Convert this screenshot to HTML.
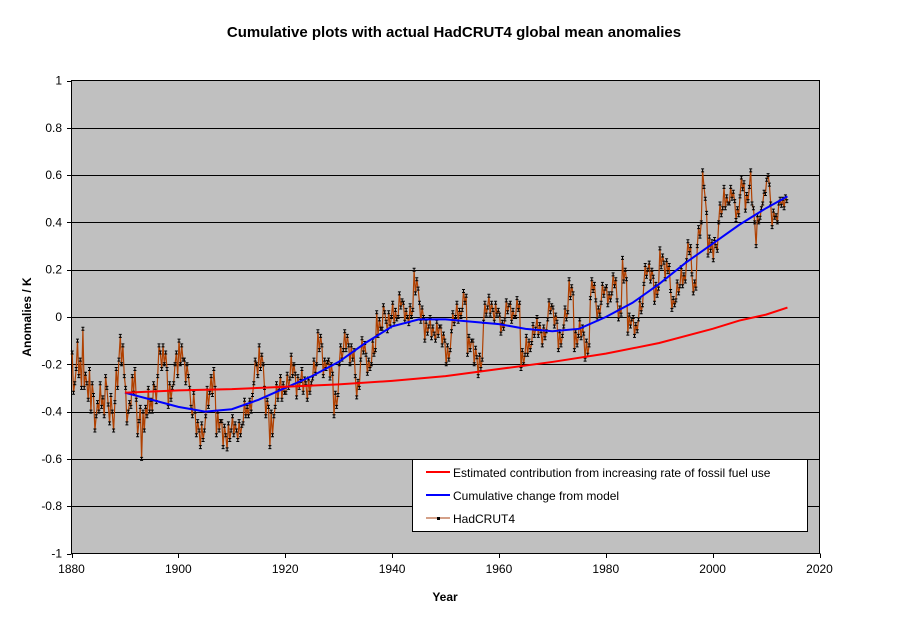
<!DOCTYPE html>
<html><head><meta charset="utf-8"><style>
body{margin:0;background:#fff;}
svg text{font-family:"Liberation Sans",Arial,sans-serif;}
</style></head><body>
<svg id="chart" width="908" height="623" xmlns="http://www.w3.org/2000/svg">
<text x="454" y="37" text-anchor="middle" font-size="15" font-weight="bold">Cumulative plots with actual HadCRUT4 global mean anomalies</text>
<rect x="71.5" y="80.5" width="748" height="473" fill="#c0c0c0" stroke="#000"/>
<g id="grid"></g><g id="ticks"></g><g id="series"></g>
<text transform="translate(31,317) rotate(-90)" text-anchor="middle" font-size="12" font-weight="bold">Anomalies / K</text>
<text x="445" y="601" text-anchor="middle" font-size="12" font-weight="bold">Year</text>
<g>
<rect x="412.5" y="459.5" width="395" height="72" fill="#fff" stroke="#000"/>
<line x1="426" y1="472" x2="450" y2="472" stroke="#ff0000" stroke-width="2"/>
<text x="453" y="477" font-size="12">Estimated contribution from increasing rate of fossil fuel use</text>
<line x1="426" y1="495" x2="450" y2="495" stroke="#0000ff" stroke-width="2"/>
<text x="453" y="500" font-size="12">Cumulative change from model</text>
<line x1="426" y1="518" x2="450" y2="518" stroke="#a84010" stroke-width="1"/>
<rect x="437" y="517" width="3" height="3" fill="#000"/>
<text x="453" y="523" font-size="12">HadCRUT4</text>
</g>
</svg>
<script>
const xTicks=[1880,1900,1920,1940,1960,1980,2000,2020];
const yTicks=[-1,-0.8,-0.6,-0.4,-0.2,0,0.2,0.4,0.6,0.8,1];
const startYear=1880;
const hadcrut=[
-0.15,-0.32,-0.28,-0.22, -0.10,-0.25,-0.18,-0.30, -0.05,-0.30,-0.24,-0.28, -0.35,-0.22,-0.40,-0.28, -0.33,-0.48,-0.42,-0.36,
-0.40,-0.28,-0.38,-0.34, -0.42,-0.25,-0.30,-0.37, -0.45,-0.33,-0.40,-0.48, -0.36,-0.22,-0.30,-0.18, -0.08,-0.20,-0.12,-0.25,
-0.30,-0.45,-0.40,-0.36, -0.38,-0.25,-0.32,-0.22, -0.35,-0.50,-0.44,-0.38, -0.60,-0.40,-0.48,-0.38, -0.42,-0.30,-0.40,-0.35,
-0.40,-0.28,-0.30,-0.36, -0.25,-0.12,-0.15,-0.22, -0.12,-0.20,-0.15,-0.22, -0.38,-0.28,-0.35,-0.30, -0.28,-0.20,-0.15,-0.25,
-0.10,-0.20,-0.12,-0.18, -0.18,-0.28,-0.20,-0.25, -0.30,-0.38,-0.42,-0.32, -0.40,-0.50,-0.44,-0.48, -0.55,-0.45,-0.52,-0.48,
-0.42,-0.30,-0.38,-0.32, -0.25,-0.33,-0.22,-0.30, -0.50,-0.40,-0.48,-0.44, -0.44,-0.55,-0.46,-0.50, -0.56,-0.45,-0.52,-0.48,
-0.42,-0.50,-0.45,-0.48, -0.52,-0.44,-0.50,-0.46, -0.45,-0.35,-0.42,-0.38, -0.42,-0.35,-0.40,-0.33, -0.28,-0.18,-0.20,-0.25,
-0.12,-0.22,-0.16,-0.20, -0.30,-0.42,-0.35,-0.38, -0.55,-0.40,-0.50,-0.42, -0.38,-0.28,-0.35,-0.30, -0.25,-0.35,-0.28,-0.32,
-0.32,-0.24,-0.30,-0.26, -0.16,-0.25,-0.20,-0.24, -0.34,-0.25,-0.30,-0.27, -0.22,-0.32,-0.26,-0.28, -0.35,-0.26,-0.32,-0.28,
-0.26,-0.18,-0.24,-0.20, -0.06,-0.14,-0.08,-0.12, -0.25,-0.18,-0.22,-0.19, -0.18,-0.26,-0.20,-0.24, -0.42,-0.32,-0.38,-0.33,
-0.20,-0.12,-0.18,-0.14, -0.06,-0.14,-0.08,-0.12, -0.20,-0.12,-0.18,-0.14, -0.25,-0.34,-0.27,-0.30, -0.18,-0.09,-0.15,-0.11,
-0.16,-0.24,-0.18,-0.22, -0.20,-0.10,-0.16,-0.14, 0.02,-0.08,-0.01,-0.05, -0.05,0.05,0.02,-0.02, -0.06,0.02,-0.04,0.00,
0.06,-0.03,0.03,-0.01, 0.00,0.10,0.04,0.07, 0.06,-0.02,0.03,0.00, -0.03,0.05,0.00,0.03, 0.20,0.10,0.16,0.12,
0.06,-0.02,0.04,0.00, -0.10,-0.02,-0.07,-0.04, 0.00,-0.09,-0.04,-0.07, -0.10,-0.02,-0.08,-0.04, -0.04,-0.12,-0.07,-0.10,
-0.20,-0.12,-0.18,-0.14, -0.06,0.02,-0.03,0.00, 0.06,-0.02,0.03,0.00, 0.03,0.11,0.06,0.09, -0.16,-0.08,-0.14,-0.10,
-0.10,-0.20,-0.13,-0.17, -0.25,-0.16,-0.22,-0.18, -0.02,0.06,0.01,0.04, 0.09,0.01,0.06,0.03, -0.02,0.06,0.01,0.03,
0.01,-0.07,-0.02,-0.05, -0.01,0.07,0.02,0.05, 0.06,-0.02,0.03,0.00, 0.00,0.08,0.03,0.06, -0.22,-0.14,-0.20,-0.16,
-0.08,-0.16,-0.10,-0.14, -0.11,-0.03,-0.08,-0.05, 0.00,-0.08,-0.03,-0.06, -0.12,-0.04,-0.09,-0.06, -0.01,0.07,0.02,0.05,
0.04,-0.04,0.01,-0.02, -0.14,-0.06,-0.12,-0.08, -0.04,0.04,-0.01,0.02, 0.16,0.08,0.13,0.10, -0.14,-0.06,-0.12,-0.08,
-0.01,-0.09,-0.04,-0.07, -0.18,-0.10,-0.16,-0.12, 0.08,0.16,0.11,0.14, 0.07,-0.01,0.04,0.01, 0.06,0.14,0.09,0.12,
0.13,0.05,0.10,0.07, 0.10,0.18,0.13,0.16, 0.07,-0.01,0.04,0.01, 0.25,0.15,0.20,0.16, -0.07,0.01,-0.04,-0.01,
0.00,-0.08,-0.03,-0.06, -0.01,0.07,0.02,0.05, 0.14,0.22,0.17,0.20, 0.23,0.15,0.20,0.17, 0.06,0.14,0.09,0.12,
0.29,0.21,0.26,0.23, 0.16,0.24,0.19,0.22, 0.11,0.03,0.08,0.05, 0.07,0.15,0.10,0.13, 0.21,0.13,0.18,0.15,
0.24,0.32,0.27,0.30, 0.18,0.10,0.15,0.12, 0.30,0.38,0.34,0.40, 0.62,0.55,0.50,0.44, 0.26,0.34,0.28,0.32,
0.24,0.33,0.30,0.28, 0.40,0.48,0.43,0.46, 0.55,0.46,0.51,0.48, 0.48,0.55,0.50,0.53, 0.49,0.41,0.46,0.43,
0.51,0.59,0.54,0.57, 0.45,0.52,0.49,0.55, 0.62,0.48,0.46,0.40, 0.30,0.43,0.40,0.42, 0.46,0.48,0.53,0.52,
0.58,0.60,0.56,0.48, 0.38,0.45,0.42,0.43, 0.40,0.48,0.50,0.47, 0.50,0.46,0.51,0.49];
const modelYears=[1890,1895,1900,1905,1910,1915,1920,1925,1930,1935,1940,1945,1950,1955,1960,1965,1970,1975,1980,1985,1990,1995,2000,2005,2010,2014];
const modelVals=[-0.32,-0.35,-0.38,-0.40,-0.39,-0.35,-0.30,-0.25,-0.19,-0.11,-0.04,-0.01,-0.01,-0.02,-0.03,-0.05,-0.06,-0.05,0.00,0.06,0.14,0.23,0.31,0.39,0.46,0.51];
const fossilYears=[1890,1900,1910,1920,1930,1940,1950,1960,1970,1980,1990,2000,2005,2010,2014];
const fossilVals=[-0.32,-0.31,-0.305,-0.295,-0.285,-0.27,-0.25,-0.22,-0.19,-0.155,-0.11,-0.05,-0.015,0.01,0.04];

const NS='http://www.w3.org/2000/svg';
const X=y=>71.5+(y-1880)*(748/140);
const Y=v=>317-v*236.5;
function mk(tag,attrs,parent){const e=document.createElementNS(NS,tag);for(const k in attrs)e.setAttribute(k,attrs[k]);document.getElementById(parent).appendChild(e);return e;}
yTicks.forEach(t=>{
  if(t>-1&&t<1){const l=mk('line',{x1:71.5,x2:819.5,y1:Math.round(Y(t))+0.5,y2:Math.round(Y(t))+0.5,stroke:'#000'},'grid');
  
  }
  mk('line',{x1:67,x2:71.5,y1:Math.round(Y(t))+0.5,y2:Math.round(Y(t))+0.5,stroke:'#000'},'ticks');
  const tx=mk('text',{x:62,y:Y(t)+4,'text-anchor':'end','font-size':12},'ticks');
  tx.textContent=String(t);
  
  
});
xTicks.forEach(t=>{
  mk('line',{x1:Math.round(X(t))+0.5,x2:Math.round(X(t))+0.5,y1:553.5,y2:558,stroke:'#000'},'ticks');
  const tx=mk('text',{x:X(t),y:573,'text-anchor':'middle','font-size':12},'ticks');
  tx.textContent=String(t);
  
  
});
let pts=hadcrut.map((v,i)=>[X(startYear+i/4+0.125),Y(v)]);
const hl=mk('polyline',{points:pts.map(p=>p[0].toFixed(1)+','+p[1].toFixed(1)).join(' '),fill:'none',stroke:'#b04000','stroke-width':1.2},'series');


pts.forEach(p=>{const d=mk('path',{d:`M${(p[0]-1.5).toFixed(1)},${(p[1]-1.5).toFixed(1)}h3M${(p[0]-1.5).toFixed(1)},${(p[1]+1.5).toFixed(1)}h3M${p[0].toFixed(1)},${(p[1]-1.5).toFixed(1)}v3`,stroke:'#000','stroke-width':1,fill:'none'},'series');

});
const ml=mk('polyline',{points:modelYears.map((y,i)=>X(y)+','+Y(modelVals[i])).join(' '),fill:'none',stroke:'#0000ff','stroke-width':2},'series');


const fl=mk('polyline',{points:fossilYears.map((y,i)=>X(y)+','+Y(fossilVals[i])).join(' '),fill:'none',stroke:'#ff0000','stroke-width':2},'series');


</script>
</body></html>
